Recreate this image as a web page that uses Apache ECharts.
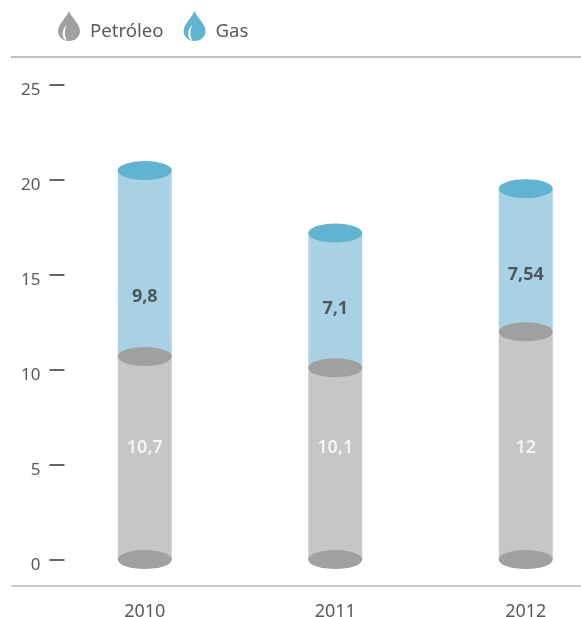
<!DOCTYPE html>
<html><head><meta charset="utf-8">
<style>html,body{margin:0;padding:0;background:#fff}#c{width:581px;height:617px}</style>
<script src="https://cdn.jsdelivr.net/npm/echarts@6/dist/echarts.min.js"></script>
</head><body><div id="c"></div>
<script>
const categories = ['2010', '2011', '2012'];
const petroleo = [10.7, 10.1, 12];
const gas = [9.8, 7.1, 7.54];
const petroleoLabels = ['10,7', '10,1', '12'];
const gasLabels = ['9,8', '7,1', '7,54'];
const yTicks = [0, 5, 10, 15, 20, 25];
// where the printed value labels sit, in axis units
const petroleoLabelAt = [5.88, 5.88, 5.88];
const gasLabelAt = [13.83, 13.2, 14.99];

const FONT = '"Noto Sans", sans-serif';
const OIL = '#c5c6c8', OIL_CAP = '#a0a0a1', GAS = '#a8d2e3', GAS_CAP = '#60b3d1';
const DROP = 'path://M11 0C13 6 22 13 22 20C22 26 17 30 11 30C5 30 0 26 0 20C0 13 9 6 11 0Z' +
             'M9 14C5 17 3.5 22 6 28C7.2 28.6 8 28.8 8.6 28.9C6 24 6.5 18 9 14Z';
const ELLIPSE = 'path://M0 50A50 50 0 1 1 100 50A50 50 0 1 1 0 50Z';
const totals = petroleo.map((v, i) => v + gas[i]);
const caps = (name, vals, color) => ({
  name, type: 'scatter', symbol: ELLIPSE, symbolKeepAspect: false, symbolSize: [54, 19],
  data: vals, itemStyle: { color, opacity: 1 }, z: 3, silent: true
});
const text = (name, at, labels, color, fontWeight) => ({
  name, type: 'scatter', symbolSize: 0, z: 5, silent: true,
  data: at.map((v, i) => ({ value: v, label: { formatter: labels[i] } })),
  label: { show: true, position: 'inside', color, fontFamily: FONT, fontSize: 18, fontWeight }
});
const chart = echarts.init(document.getElementById('c'), null, { renderer: 'canvas' });
chart.setOption({
  animation: false,
  backgroundColor: '#fff',
  legend: {
    left: 58, top: 11, itemWidth: 22, itemHeight: 31, itemGap: 20, padding: 0,
    selectedMode: false,
    formatter: '{a|{name}}',
    textStyle: {
      rich: { a: { color: '#5a5a5a', fontFamily: FONT, fontSize: 18.6, padding: [12, 0, 0, 5] } }
    },
    data: [{ name: 'Petróleo', icon: DROP, itemStyle: { color: OIL_CAP } },
           { name: 'Gas', icon: DROP, itemStyle: { color: GAS_CAP } }]
  },
  grid: { left: 49.5, top: 85, width: 571.5, height: 474.5, containLabel: false, outerBoundsMode: 'none' },
  xAxis: {
    type: 'category', data: categories,
    axisLine: { show: false }, axisTick: { show: false },
    axisLabel: { color: '#5a5a5a', fontFamily: FONT, fontSize: 18, margin: 43 }
  },
  yAxis: {
    type: 'value', min: yTicks[0], max: yTicks[yTicks.length - 1], interval: yTicks[1] - yTicks[0],
    splitLine: { show: false }, axisLine: { show: false },
    axisTick: { show: true, inside: true, length: 15, lineStyle: { color: '#666', width: 2 } },
    axisLabel: {
      margin: 9, formatter: '{a|{value}}',
      rich: { a: { color: '#5a5a5a', fontFamily: FONT, fontSize: 17, padding: [11, 0, 0, 0] } }
    }
  },
  series: [
    { name: 'Petróleo', type: 'bar', stack: 't', barWidth: 54, data: petroleo, itemStyle: { color: OIL } },
    { name: 'Gas', type: 'bar', stack: 't', barWidth: 54, data: gas, itemStyle: { color: GAS } },
    caps('base', categories.map(() => 0), OIL_CAP),
    caps('petroleoTop', petroleo, OIL_CAP),
    caps('gasTop', totals, GAS_CAP),
    text('petroleoText', petroleoLabelAt, petroleoLabels, '#ffffff', 600),
    text('gasText', gasLabelAt, gasLabels, '#33393a', 700)
  ],
  graphic: [
    { type: 'line', shape: { x1: 11, y1: 57, x2: 581, y2: 57 }, style: { stroke: '#808080', lineWidth: 1 } },
    { type: 'line', shape: { x1: 11, y1: 586, x2: 581, y2: 586 }, style: { stroke: '#9a9a9a', lineWidth: 1 } }
  ]
});
</script></body></html>
